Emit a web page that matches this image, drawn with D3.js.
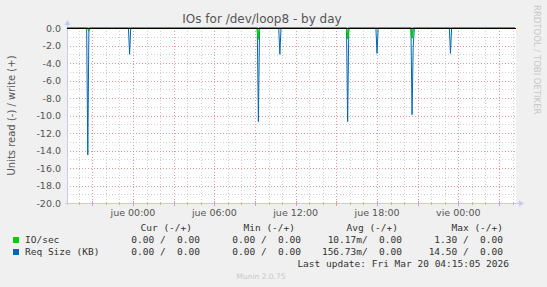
<!DOCTYPE html>
<html>
<head>
<meta charset="utf-8">
<script src="https://cdn.jsdelivr.net/npm/d3@7"></script>
<style>
  html, body { margin: 0; padding: 0; background: #f0f0f0; }
  text { font-family: "DejaVu Sans", sans-serif; }
  .mono { font-family: "DejaVu Sans Mono", monospace; white-space: pre; }
</style>
</head>
<body>
<div id="chart"></div>
<script>
// IOs for /dev/loop8 - by day (munin)
const title = "IOs for /dev/loop8 - by day";
const yLabel = "Units read (-) / write (+)";

// time window of the graph
const startTime = "2026-03-18T19:08";
const endTime = "2026-03-20T04:15";

// Req Size (KB), read side (drawn negative)
const reqTimes = ["2026-03-18T20:40", "2026-03-18T23:45", "2026-03-19T09:15", "2026-03-19T10:50",
  "2026-03-19T15:50", "2026-03-19T18:00", "2026-03-19T20:35", "2026-03-19T20:40", "2026-03-19T23:25"];
const reqValues = [14.5, 3.0, 10.7, 3.0, 10.7, 2.9, 9.9, 2.2, 2.9];

// IO/sec, read side (drawn negative)
const ioTimes = ["2026-03-18T20:45", "2026-03-19T09:15", "2026-03-19T15:50", "2026-03-19T20:35"];
const ioValues = [0.3, 1.3, 1.25, 1.2];

// legend table
const legendHeaders = ["Cur (-/+)", "Min (-/+)", "Avg (-/+)", "Max (-/+)"];
const legendNames = ["IO/sec", "Req Size (KB)"];
const legendColors = ["#00cc00", "#0066b3"];
const legendRows = [
  ["0.00 /  0.00", "0.00 /  0.00", "10.17m/  0.00", "1.30 /  0.00"],
  ["0.00 /  0.00", "0.00 /  0.00", "156.73m/  0.00", "14.50 /  0.00"]
];
const lastUpdate = "Last update: Fri Mar 20 04:15:05 2026";
const version = "Munin 2.0.75";

const width = 547, height = 287;
const pLeft = 67, pRight = 516, pTop = 28, pBottom = 203;

const svg = d3.select("#chart").append("svg")
  .attr("width", width)
  .attr("height", height)
  .style("display", "block");

svg.append("rect").attr("width", width).attr("height", height).attr("fill", "#f0f0f0");

const x = d3.scaleTime()
  .domain([new Date(startTime), new Date(endTime)])
  .range([pLeft, pRight]);

const y = d3.scaleLinear()
  .domain([-20, 0])
  .range([pBottom, pTop]);

svg.append("rect")
  .attr("x", pLeft).attr("y", pTop)
  .attr("width", pRight - pLeft).attr("height", pBottom - pTop)
  .attr("fill", "#fff");

// grid
const minorHours = d3.timeHour.every(1).range(x.domain()[0], x.domain()[1]);
const majorHours = d3.timeHour.every(3).range(x.domain()[0], x.domain()[1]);
const minorY = d3.range(-20, 0.5, 1);
const majorY = d3.range(-20, 0.5, 2);

const grid = svg.append("g");
grid.selectAll("line.vmin").data(minorHours).enter().append("line")
  .attr("x1", d => Math.round(x(d)) + 0.5).attr("x2", d => Math.round(x(d)) + 0.5)
  .attr("y1", pTop).attr("y2", pBottom)
  .attr("stroke", "#d0d0d0").attr("stroke-dasharray", "1,2");
grid.selectAll("line.hmin").data(minorY).enter().append("line")
  .attr("x1", pLeft).attr("x2", pRight)
  .attr("y1", d => Math.round(y(d)) + 0.5).attr("y2", d => Math.round(y(d)) + 0.5)
  .attr("stroke", "#d0d0d0").attr("stroke-dasharray", "1,2");
grid.selectAll("line.vmaj").data(majorHours).enter().append("line")
  .attr("x1", d => Math.round(x(d)) + 0.5).attr("x2", d => Math.round(x(d)) + 0.5)
  .attr("y1", pTop).attr("y2", pBottom)
  .attr("stroke", "#eb9a9a").attr("stroke-dasharray", "1,2");
grid.selectAll("line.hmaj").data(majorY).enter().append("line")
  .attr("x1", pLeft).attr("x2", pRight)
  .attr("y1", d => Math.round(y(d)) + 0.5).attr("y2", d => Math.round(y(d)) + 0.5)
  .attr("stroke", "#eb9a9a").attr("stroke-dasharray", "1,2");

// axes (lavender, munin style)
const axisColor = "#c8c8f0";
svg.append("line").attr("x1", pLeft + 0.5).attr("x2", pLeft + 0.5)
  .attr("y1", pTop - 4).attr("y2", pBottom + 2).attr("stroke", axisColor);
svg.append("line").attr("x1", pLeft - 2).attr("x2", pRight + 4)
  .attr("y1", pBottom + 0.5).attr("y2", pBottom + 0.5).attr("stroke", axisColor);
svg.append("path").attr("d", `M${pLeft - 2.5},${pTop - 3} L${pLeft + 0.5},${pTop - 8} L${pLeft + 3.5},${pTop - 3} Z`)
  .attr("fill", axisColor);
svg.append("path").attr("d", `M${pRight + 3},${pBottom - 2.5} L${pRight + 8},${pBottom + 0.5} L${pRight + 3},${pBottom + 3.5} Z`)
  .attr("fill", axisColor);

// small ticks on the bottom axis
svg.selectAll("line.tmin").data(minorHours).enter().append("line")
  .attr("x1", d => Math.round(x(d)) + 0.5).attr("x2", d => Math.round(x(d)) + 0.5)
  .attr("y1", pBottom - 1).attr("y2", pBottom + 2).attr("stroke", "#bbb");
svg.selectAll("line.tmaj").data(majorHours).enter().append("line")
  .attr("x1", d => Math.round(x(d)) + 0.5).attr("x2", d => Math.round(x(d)) + 0.5)
  .attr("y1", pBottom - 2).attr("y2", pBottom + 3).attr("stroke", "#eb9a9a");

// tick labels
const es = d3.timeFormatLocale({
  dateTime: "%A, %e de %B de %Y, %X", date: "%d/%m/%Y", time: "%H:%M:%S",
  periods: ["AM", "PM"],
  days: ["domingo", "lunes", "martes", "miércoles", "jueves", "viernes", "sábado"],
  shortDays: ["dom", "lun", "mar", "mié", "jue", "vie", "sáb"],
  months: ["enero", "febrero", "marzo", "abril", "mayo", "junio", "julio", "agosto", "septiembre", "octubre", "noviembre", "diciembre"],
  shortMonths: ["ene", "feb", "mar", "abr", "may", "jun", "jul", "ago", "sep", "oct", "nov", "dic"]
});
const fmt = es.format("%a %H:%M");
const xTicks = d3.timeHour.every(6).range(x.domain()[0], x.domain()[1]);

svg.selectAll("text.xt").data(xTicks).enter().append("text")
  .attr("x", d => x(d)).attr("y", 216)
  .attr("text-anchor", "middle")
  .attr("font-size", "9.5px").attr("fill", "#555")
  .text(d => fmt(d));

svg.selectAll("text.yt").data(majorY).enter().append("text")
  .attr("x", 61).attr("y", d => y(d) + 3.5)
  .attr("text-anchor", "end")
  .attr("font-size", "9.5px").attr("fill", "#555")
  .text(d => d3.format(".1f")(d).replace("−", "-"));

// series
const steps = d3.timeMinute.every(5).range(x.domain()[0], x.domain()[1]);
function series(times, values) {
  const m = new Map(times.map((t, i) => [+new Date(t), values[i]]));
  return steps.map(t => ({ t: t, v: m.get(+t) || 0 }));
}
const line = d3.line().x(d => x(d.t)).y(d => y(-d.v));

svg.append("path").datum(series(reqTimes, reqValues))
  .attr("d", line).attr("fill", "none").attr("stroke", legendColors[1]).attr("stroke-width", 1);
svg.append("path").datum(series(ioTimes, ioValues))
  .attr("d", line).attr("fill", "none").attr("stroke", legendColors[0]).attr("stroke-width", 1.5);

// zero line
svg.append("line").attr("x1", pLeft).attr("x2", pRight)
  .attr("y1", y(0) + 0.5).attr("y2", y(0) + 0.5).attr("stroke", "#000");

// title and labels
svg.append("text").attr("x", 262).attr("y", 23).attr("text-anchor", "middle")
  .attr("font-size", "12px").attr("fill", "#555").text(title);

svg.append("text")
  .attr("transform", `translate(15,${(pTop + pBottom) / 2}) rotate(-90)`)
  .attr("text-anchor", "middle").attr("font-size", "10px").attr("fill", "#555")
  .text(yLabel);

svg.append("text")
  .attr("transform", `translate(533.5,5) rotate(90)`)
  .attr("text-anchor", "start").attr("font-size", "8.5px").attr("fill", "#c8c8c8")
  .text("RRDTOOL / TOBI OETIKER");

// legend
const colEnds = [200, 301, 402, 503];
const headEnds = [192, 295, 398, 503];
const lg = svg.append("g").attr("font-size", "9.5px").attr("fill", "#333");
lg.selectAll("text.h").data(legendHeaders).enter().append("text")
  .attr("class", "mono").attr("x", (d, i) => headEnds[i]).attr("y", 230.5)
  .attr("text-anchor", "end").text(d => d);

legendNames.forEach((name, r) => {
  const yy = 243 + r * 12;
  lg.append("rect").attr("x", 13).attr("y", yy - 6).attr("width", 6).attr("height", 6)
    .attr("fill", legendColors[r]);
  lg.append("text").attr("class", "mono").attr("x", 25).attr("y", yy).text(name);
  legendRows[r].forEach((cell, c) => {
    lg.append("text").attr("class", "mono").attr("x", colEnds[c]).attr("y", yy)
      .attr("text-anchor", "end").text(cell);
  });
});
lg.append("text").attr("class", "mono").attr("x", 509).attr("y", 266.5)
  .attr("text-anchor", "end").text(lastUpdate);

svg.append("text").attr("x", 261).attr("y", 279).attr("text-anchor", "middle")
  .attr("font-size", "7.5px").attr("fill", "#c8c8c8").text(version);
</script>
</body>
</html>
